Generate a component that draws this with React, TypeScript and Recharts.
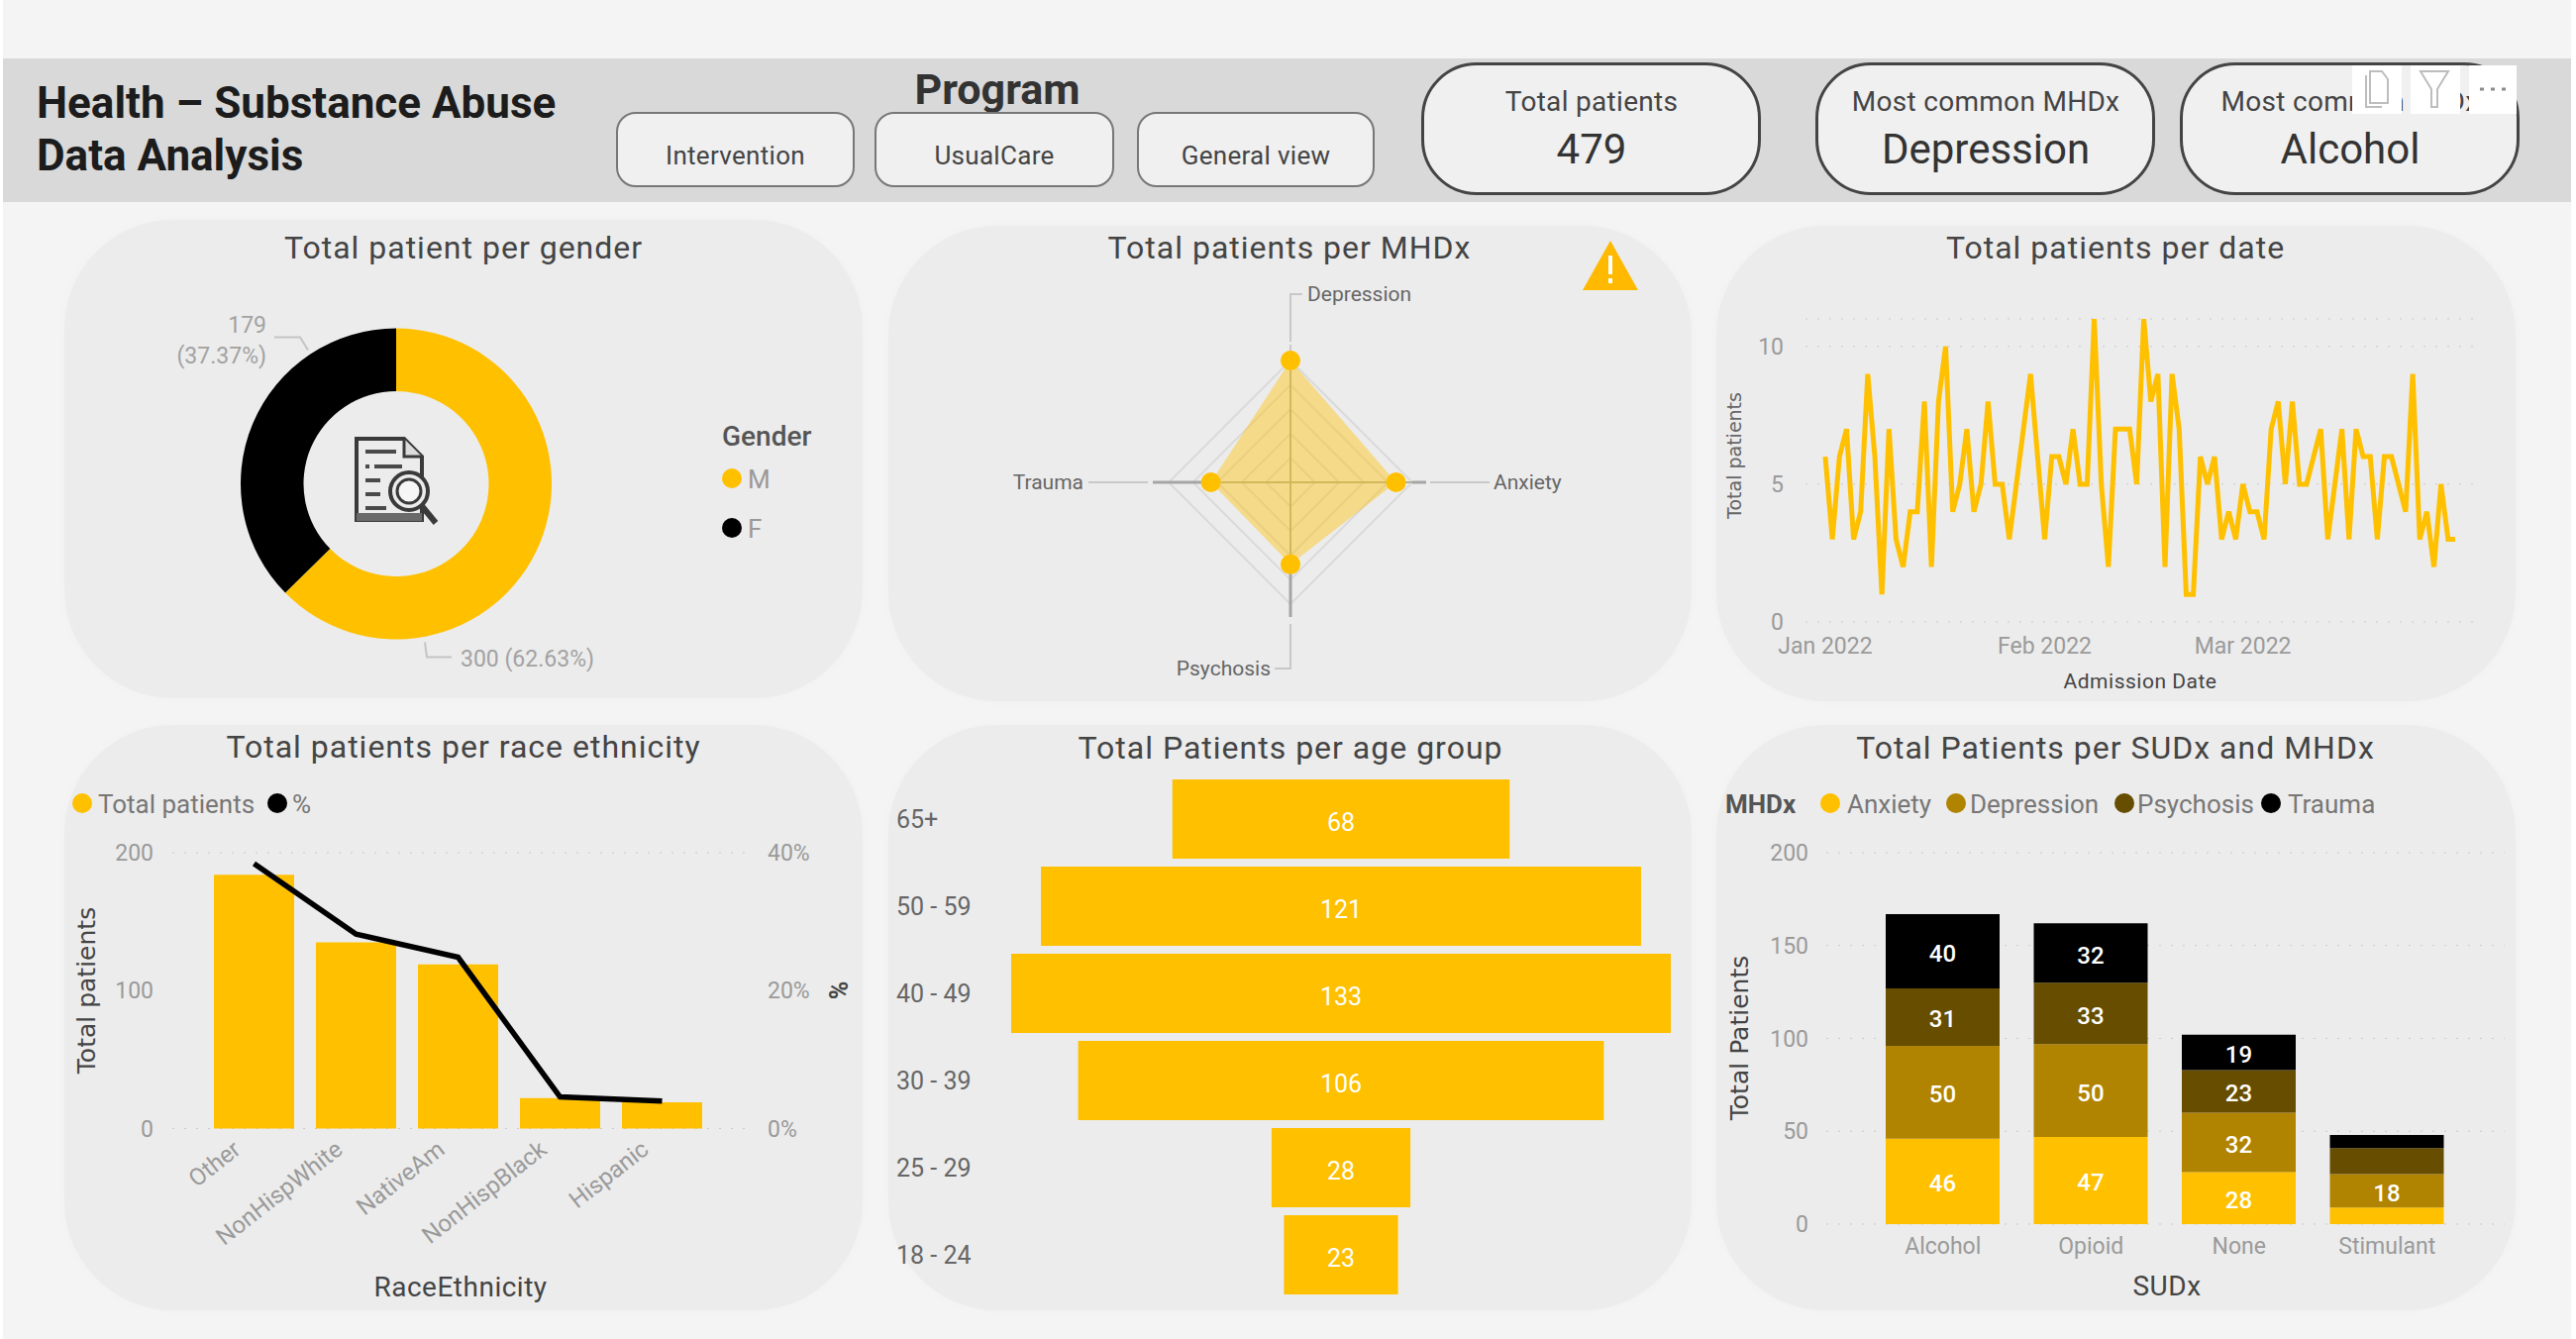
import React from 'react';
import {
  PieChart, Pie, Cell, RadarChart, Radar, PolarGrid, PolarAngleAxis, PolarRadiusAxis,
  LineChart, Line, XAxis, YAxis, CartesianGrid, ComposedChart, Bar, BarChart, LabelList,
} from 'recharts';

const FONT = 'Roboto, sans-serif';
const WIDE = '"DejaVu Sans", sans-serif';
const YELLOW = '#ffc000';

const programs = ['Intervention', 'UsualCare', 'General view'];

const genderNames = ['M', 'F'];
const genderValues = [300, 179];

const mhdxNames = ['Depression', 'Anxiety', 'Psychosis', 'Trauma'];
const mhdxValues = [150, 130, 101, 98];

// one value per admission day, starting 1 Jan 2022
const dailyPatients = [
  6, 3, 6, 7, 3, 4, 9, 6, 1, 7, 3, 2, 4, 4, 8, 2, 8, 10, 4, 5, 7, 4, 5, 8, 5, 5, 3, 5, 7, 9,
  6, 3, 6, 6, 5, 7, 5, 5, 11, 5, 2, 7, 7, 7, 5, 11, 8, 9, 2, 9, 7, 1, 1, 6, 5, 6, 3, 4, 3, 5,
  4, 4, 3, 7, 8, 5, 8, 5, 5, 6, 7, 3, 5, 7, 3, 7, 6, 6, 3, 6, 6, 5, 4, 9, 3, 4, 2, 5, 3, 3,
];
const monthStarts = [0, 31, 59];
const monthLabels = ['Jan 2022', 'Feb 2022', 'Mar 2022'];

const raceNames = ['Other', 'NonHispWhite', 'NativeAm', 'NonHispBlack', 'Hispanic'];
const raceTotals = [184, 135, 119, 22, 19];
const racePercents = [38.41, 28.18, 24.84, 4.59, 3.97];

const ageGroups = ['65+', '50 - 59', '40 - 49', '30 - 39', '25 - 29', '18 - 24'];
const ageTotals = [68, 121, 133, 106, 28, 23];

const sudxNames = ['Alcohol', 'Opioid', 'None', 'Stimulant'];
const sudAnxiety = [46, 47, 28, 9];
const sudDepression = [50, 50, 32, 18];
const sudPsychosis = [31, 33, 23, 14];
const sudTrauma = [40, 32, 19, 7];

const genderData = genderNames.map((name, i) => ({ name, value: genderValues[i] }));
const mhdxData = mhdxNames.map((name, i) => ({ name, value: mhdxValues[i] }));
const dailyData = dailyPatients.map((patients, day) => ({ day, patients }));
const raceData = raceNames.map((name, i) => ({ name, total: raceTotals[i], pct: racePercents[i] }));
const ageData = ageGroups.map((age, i) => ({ age, patients: ageTotals[i] }));
const sudData = sudxNames.map((name, i) => ({
  name,
  Anxiety: sudAnxiety[i],
  Depression: sudDepression[i],
  Psychosis: sudPsychosis[i],
  Trauma: sudTrauma[i],
}));

const sudSeries = [
  { key: 'Anxiety', color: YELLOW },
  { key: 'Depression', color: '#b08300' },
  { key: 'Psychosis', color: '#664d00' },
  { key: 'Trauma', color: '#000000' },
];

const GRID = { stroke: '#c9c9c9', strokeDasharray: '2 10', vertical: false };
const TICK = { fill: '#9a9a9a', fontSize: 23, fontFamily: FONT };

type TxtProps = {
  x: number; y: number; size: number; color?: string; weight?: number; spacing?: number;
  anchor?: 'start' | 'middle' | 'end'; font?: string; rotate?: number; children: React.ReactNode;
};

const Txt: React.FC<TxtProps> = ({ x, y, size, color = '#444', weight = 400, spacing = 0, anchor = 'middle', font = FONT, rotate = 0, children }) => {
  const tx = anchor === 'middle' ? '-50%' : anchor === 'end' ? '-100%' : '0';
  return (
    <div style={{
      position: 'absolute', left: x, top: y, fontSize: size, color, fontWeight: weight, fontFamily: font, letterSpacing: spacing,
      lineHeight: 1, whiteSpace: 'nowrap', transform: `translate(${tx}, -50%) rotate(${rotate}deg)`,
    }}>{children}</div>
  );
};

const Title: React.FC<{ x: number; y: number; children: React.ReactNode }> = ({ x, y, children }) => (
  <Txt x={x} y={y} size={32} spacing={1} color="#444">{children}</Txt>
);

const Dot: React.FC<{ x: number; y: number; color: string }> = ({ x, y, color }) => (
  <div style={{ position: 'absolute', left: x - 10, top: y - 10, width: 20, height: 20, borderRadius: '50%', background: color }} />
);

const Card: React.FC<{ x: number; y: number; w: number; h: number }> = ({ x, y, w, h }) => (
  <div style={{ position: 'absolute', left: x, top: y, width: w, height: h, borderRadius: 110, background: '#ececec', boxShadow: '0 0 6px #f0f0f0' }} />
);

const Frame: React.FC<{ x: number; y: number; children: React.ReactNode }> = ({ x, y, children }) => (
  <div style={{ position: 'absolute', left: x, top: y }}>{children}</div>
);

const Button: React.FC<{ x: number; w: number; label: string }> = ({ x, w, label }) => (
  <div style={{
    position: 'absolute', left: x, top: 113, width: w, height: 76, boxSizing: 'border-box', background: '#f0f0f0',
    border: '2px solid #777', borderRadius: 20,
  }}>
    <Txt x={w / 2 - 2} y={42} size={26} spacing={0.3} color="#444">{label}</Txt>
  </div>
);

const Kpi: React.FC<{ x: number; label: string; value: string }> = ({ x, label, value }) => (
  <div style={{
    position: 'absolute', left: x, top: 63, width: 343, height: 134, boxSizing: 'border-box', background: '#f0f0f0',
    border: '3px solid #444', borderRadius: 56,
  }}>
    <Txt x={169} y={37} size={28} spacing={0.3} color="#444">{label}</Txt>
    <Txt x={169} y={85} size={42} color="#333">{value}</Txt>
  </div>
);

const HeaderButton: React.FC<{ x: number; w: number; children?: React.ReactNode }> = ({ x, w, children }) => (
  <svg style={{ position: 'absolute', left: x, top: 66 }} width={w} height={49}>
    <rect width={w} height={49} fill="#ffffff" />
    {children}
  </svg>
);

const renderGenderLabel = (p: any) => {
  const { cx, cy, value, percent, index } = p;
  const pct = `(${(percent * 100).toFixed(2)}%)`;
  const textProps = { fill: '#a2a2a2', fontSize: 23, fontFamily: FONT };
  if (index === 0) {
    return (
      <g>
        <polyline points={`${cx + 29},${cy + 160} ${cx + 31},${cy + 175} ${cx + 56},${cy + 175}`} fill="none" stroke="#c4c4c4" strokeWidth={2} />
        <text x={cx + 65} y={cy + 184} {...textProps}>{`${value} ${pct}`}</text>
      </g>
    );
  }
  return (
    <g>
      <polyline points={`${cx - 123},${cy - 148} ${cx - 97},${cy - 148} ${cx - 89},${cy - 135}`} fill="none" stroke="#c4c4c4" strokeWidth={2} />
      <text x={cx - 131} y={cy - 153} textAnchor="end" {...textProps}>{value}</text>
      <text x={cx - 131} y={cy - 122} textAnchor="end" {...textProps}>{pct}</text>
    </g>
  );
};

const RADAR_CX = 406;
const RADAR_CY = 259;

const RadarTick = ({ payload }: any) => {
  const i = mhdxNames.indexOf(payload.value);
  const cx = RADAR_CX;
  const cy = RADAR_CY;
  const textProps = { fill: '#666', fontSize: 21, fontFamily: FONT, dominantBaseline: 'central' as const };
  const leader = { fill: 'none', stroke: '#c8c8c8', strokeWidth: 2 };
  const spoke = { stroke: '#a5a5a5', strokeWidth: 3 };
  if (i === 0) {
    return (
      <g>
        <line x1={cx} y1={cy - 123} x2={cx} y2={cy - 139} {...spoke} strokeWidth={1} />
        <polyline points={`${cx},${cy - 142} ${cx},${cy - 190} ${cx + 12},${cy - 190}`} {...leader} />
        <text x={cx + 17} y={cy - 190} {...textProps}>{payload.value}</text>
      </g>
    );
  }
  if (i === 1) {
    return (
      <g>
        <line x1={cx + 123} y1={cy} x2={cx + 137} y2={cy} {...spoke} />
        <line x1={cx + 141} y1={cy} x2={cx + 201} y2={cy} {...leader} />
        <text x={cx + 205} y={cy} {...textProps}>{payload.value}</text>
      </g>
    );
  }
  if (i === 2) {
    return (
      <g>
        <line x1={cx} y1={cy + 83} x2={cx} y2={cy + 136} {...spoke} />
        <polyline points={`${cx},${cy + 143} ${cx},${cy + 188} ${cx - 16},${cy + 188}`} {...leader} />
        <text x={cx - 20} y={cy + 188} textAnchor="end" {...textProps}>{payload.value}</text>
      </g>
    );
  }
  return (
    <g>
      <line x1={cx - 82} y1={cy} x2={cx - 139} y2={cy} {...spoke} />
      <line x1={cx - 144} y1={cy} x2={cx - 204} y2={cy} {...leader} />
      <text x={cx - 209} y={cy} textAnchor="end" {...textProps}>{payload.value}</text>
    </g>
  );
};

const RaceTick = ({ x, y, payload }: any) => (
  <text
    x={x - 12} y={y + 16} textAnchor="end" fill="#9a9a9a" fontSize={24} fontFamily={FONT}
    transform={`rotate(-38 ${x - 12} ${y + 16})`}
  >
    {payload.value}
  </text>
);

const AgeTick = ({ y, payload }: any) => (
  <text x={8} y={y} dominantBaseline="central" fill="#666" fontSize={25} fontFamily={FONT}>{payload.value}</text>
);

const DocIcon = () => (
  <svg style={{ position: 'absolute', left: 356, top: 440 }} width={90} height={92} viewBox="0 0 90 92">
    <path d="M4 3 H52 L70 21 V85 H4 Z" fill="#ececec" stroke="#3a3a3a" strokeWidth={4} />
    <path d="M52 3 V21 H70" fill="#dcdcdc" stroke="#3a3a3a" strokeWidth={3} />
    <path d="M13 16 H44 M13 31 H17 M22 31 H50 M13 45 H28 M13 59 H28 M13 73 H34" stroke="#4a4a4a" strokeWidth={4} fill="none" />
    <rect x={4} y={78} width={66} height={8} fill="#6a6a6a" />
    <circle cx={57} cy={56} r={19} fill="#ececec" stroke="#3a3a3a" strokeWidth={4} />
    <circle cx={57} cy={56} r={12} fill="#f6f6f6" stroke="#3a3a3a" strokeWidth={3} />
    <line x1={70} y1={71} x2={84} y2={88} stroke="#3a3a3a" strokeWidth={6} />
  </svg>
);

const WarningIcon = () => (
  <svg style={{ position: 'absolute', left: 1597, top: 242 }} width={58} height={52} viewBox="0 0 58 52">
    <path d="M29 1 L57 51 H1 Z" fill="#ffb900" />
    <rect x={27} y={16} width={4} height={19} fill="#ffffff" />
    <rect x={27} y={39} width={4} height={5} fill="#ffffff" />
  </svg>
);

const App: React.FC = () => {
  return (
    <div style={{ position: 'relative', width: 2601, height: 1352, background: '#ffffff', overflow: 'hidden', fontFamily: FONT }}>
      <style>{'body{margin:0}'}</style>

      <div style={{ position: 'absolute', left: 3, top: 0, width: 2593, height: 1352, background: '#f4f4f4' }} />

      {/* header band */}
      <div style={{ position: 'absolute', left: 3, top: 59, width: 2593, height: 145, background: '#d9d9d9' }} />
      <Txt x={37} y={104} size={44} weight={700} color="#1c1c1c" anchor="start">Health – Substance Abuse</Txt>
      <Txt x={37} y={157} size={44} weight={700} color="#1c1c1c" anchor="start">Data Analysis</Txt>
      <Txt x={1007} y={90} size={43} weight={700} color="#333">Program</Txt>
      <Button x={622} w={241} label={programs[0]} />
      <Button x={883} w={242} label={programs[1]} />
      <Button x={1148} w={240} label={programs[2]} />
      <Kpi x={1435} label="Total patients" value="479" />
      <Kpi x={1833} label="Most common MHDx" value="Depression" />
      <Kpi x={2201} label="Most common SUDx" value="Alcohol" />
      <HeaderButton x={2375} w={50}>
        <path d="M18 6 H30 L36 14 V38 H18 Z M14 10 V42 H30" fill="none" stroke="#bdbdbd" strokeWidth={2} />
      </HeaderButton>
      <HeaderButton x={2434} w={50}>
        <path d="M10 6 H38 L27 24 V42 H21 V24 Z" fill="none" stroke="#bdbdbd" strokeWidth={2} />
      </HeaderButton>
      <HeaderButton x={2493} w={48}>
        <path d="M11 24 h4 M22 24 h4 M33 24 h4" stroke="#8a8a8a" strokeWidth={3} />
      </HeaderButton>

      <Card x={65} y={222} w={806} h={483} />
      <Card x={897} y={228} w={811} h={480} />
      <Card x={1733} y={228} w={807} h={480} />
      <Card x={65} y={732} w={806} h={591} />
      <Card x={897} y={732} w={811} h={591} />
      <Card x={1733} y={732} w={807} h={591} />

      {/* gender donut */}
      <Title x={468} y={250}>Total patient per gender</Title>
      <Frame x={65} y={222}>
        <PieChart width={806} height={483} margin={{ left: 0, right: 0, top: 0, bottom: 0 }}>
          <Pie
            data={genderData} dataKey="value" nameKey="name" cx={335} cy={266.5}
            innerRadius={93.5} outerRadius={157} startAngle={90} endAngle={-270}
            stroke="none" label={renderGenderLabel} labelLine={false} isAnimationActive={false}
          >
            <Cell fill={YELLOW} />
            <Cell fill="#000000" />
          </Pie>
        </PieChart>
      </Frame>
      <DocIcon />
      <Txt x={729} y={441} size={28} color="#555" weight={500} anchor="start">Gender</Txt>
      <Dot x={739} y={483} color={YELLOW} />
      <Txt x={755} y={484} size={26} color="#999" anchor="start">{genderNames[0]}</Txt>
      <Dot x={739} y={533} color="#000" />
      <Txt x={755} y={534} size={26} color="#999" anchor="start">{genderNames[1]}</Txt>

      {/* MHDx radar */}
      <Title x={1302} y={250}>Total patients per MHDx</Title>
      <Frame x={897} y={228}>
        <RadarChart width={811} height={480} data={mhdxData} cx={RADAR_CX} cy={RADAR_CY} outerRadius={123}>
          <PolarGrid gridType="polygon" stroke="#dadada" strokeWidth={2} radialLines={false} />
          <PolarGrid gridType="polygon" stroke="#b4b09c" strokeWidth={2} polarRadius={[0]} />
          <PolarAngleAxis dataKey="name" tick={RadarTick} tickLine={false} axisLine={false} />
          <PolarRadiusAxis domain={[0, 150]} tickCount={6} tick={false} axisLine={false} />
          <Radar
            dataKey="value" stroke="none" fill={YELLOW} fillOpacity={0.42}
            dot={{ r: 10, fill: YELLOW, stroke: 'none', fillOpacity: 1 }} isAnimationActive={false}
          />
        </RadarChart>
      </Frame>
      <WarningIcon />

      {/* daily admissions */}
      <Title x={2136} y={250}>Total patients per date</Title>
      <Frame x={1733} y={228}>
        <LineChart width={807} height={480} data={dailyData} margin={{ left: 30, right: 42, top: 94, bottom: 40 }}>
          <CartesianGrid {...GRID} />
          <XAxis
            dataKey="day" type="number" domain={[0, 89]} ticks={monthStarts} padding={{ left: 20, right: 19 }}
            tickFormatter={(d: number) => monthLabels[monthStarts.indexOf(d)]}
            tick={TICK} tickLine={false} axisLine={false} height={40} tickMargin={10} interval={0}
          />
          <YAxis
            width={60} domain={[0, 11]} ticks={[0, 5, 10]} allowDataOverflow
            tick={TICK} tickLine={false} axisLine={false} tickMargin={16}
          />
          <Line dataKey="patients" type="linear" stroke={YELLOW} strokeWidth={5} strokeLinejoin="miter" dot={false} isAnimationActive={false} />
        </LineChart>
      </Frame>
      <Txt x={1751} y={460} size={19} color="#666" font={WIDE} rotate={-90}>Total patients</Txt>
      <Txt x={2161} y={688} size={21} color="#444" spacing={0.5}>Admission Date</Txt>

      {/* race ethnicity combo */}
      <Title x={468} y={754}>Total patients per race ethnicity</Title>
      <Dot x={83} y={811} color={YELLOW} />
      <Txt x={99} y={812} size={26} color="#777" anchor="start">Total patients</Txt>
      <Dot x={280} y={811} color="#000" />
      <Txt x={295} y={812} size={26} color="#777" anchor="start">%</Txt>
      <Frame x={65} y={732}>
        <ComposedChart width={806} height={591} data={raceData} margin={{ left: 49, right: 55, top: 129, bottom: 83.5 }}>
          <CartesianGrid {...GRID} />
          <XAxis
            dataKey="name" padding={{ left: 31, right: 36 }} tick={RaceTick} tickLine={false} axisLine={false}
            height={100} interval={0}
          />
          <YAxis
            yAxisId="left" width={60} domain={[0, 200]} ticks={[0, 100, 200]}
            tick={TICK} tickLine={false} axisLine={false} tickMargin={13}
          />
          <YAxis
            yAxisId="right" orientation="right" width={60} domain={[0, 40]} ticks={[0, 20, 40]}
            tickFormatter={(v: number) => `${v}%`} tick={TICK} tickLine={false} axisLine={false} tickMargin={13}
          />
          <Bar yAxisId="left" dataKey="total" fill={YELLOW} barSize={81} isAnimationActive={false} />
          <Line yAxisId="right" dataKey="pct" type="linear" stroke="#000" strokeWidth={5.5} dot={false} isAnimationActive={false} />
        </ComposedChart>
      </Frame>
      <Txt x={87} y={1000} size={25} color="#444" font={WIDE} rotate={-90}>Total patients</Txt>
      <Txt x={847} y={1000} size={25} color="#444" weight={700} rotate={-90}>%</Txt>
      <Txt x={465} y={1300} size={28} spacing={0.5} color="#444">RaceEthnicity</Txt>

      {/* age funnel */}
      <Title x={1303} y={755}>Total Patients per age group</Title>
      <Frame x={897} y={732}>
        <BarChart
          width={811} height={591} data={ageData} layout="vertical"
          margin={{ left: 0, right: 21, top: 51, bottom: 12 }}
        >
          <XAxis type="number" hide domain={[-66.5, 66.5]} />
          <YAxis type="category" dataKey="age" width={124} tick={AgeTick} tickLine={false} axisLine={false} interval={0} />
          <Bar dataKey={(d: any) => [-d.patients / 2, d.patients / 2]} fill={YELLOW} barSize={80} isAnimationActive={false}>
            <LabelList dataKey="patients" position="center" fill="#fff" fontSize={25} fontFamily={FONT} dy={3} />
          </Bar>
        </BarChart>
      </Frame>

      {/* SUDx stacked */}
      <Title x={2136} y={755}>Total Patients per SUDx and MHDx</Title>
      <Txt x={1742} y={812} size={26} color="#555" weight={700} anchor="start">MHDx</Txt>
      <Dot x={1848} y={811} color={sudSeries[0].color} />
      <Txt x={1865} y={812} size={26} color="#777" anchor="start">{sudSeries[0].key}</Txt>
      <Dot x={1975} y={811} color={sudSeries[1].color} />
      <Txt x={1989} y={812} size={26} color="#777" anchor="start">{sudSeries[1].key}</Txt>
      <Dot x={2145} y={811} color={sudSeries[2].color} />
      <Txt x={2158} y={812} size={26} color="#777" anchor="start">{sudSeries[2].key}</Txt>
      <Dot x={2293} y={811} color={sudSeries[3].color} />
      <Txt x={2310} y={812} size={26} color="#777" anchor="start">{sudSeries[3].key}</Txt>
      <Frame x={1733} y={732}>
        <BarChart width={807} height={591} data={sudData} margin={{ left: 51, right: 11, top: 129, bottom: 47 }}>
          <CartesianGrid {...GRID} />
          <XAxis
            dataKey="name" padding={{ left: 43, right: 44 }} tick={TICK} tickLine={false} axisLine={false}
            height={40} tickMargin={8} interval={0}
          />
          <YAxis
            width={60} domain={[0, 200]} ticks={[0, 50, 100, 150, 200]}
            tick={TICK} tickLine={false} axisLine={false} tickMargin={12}
          />
          {sudSeries.map((s) => (
            <Bar key={s.key} dataKey={s.key} stackId="sud" fill={s.color} barSize={115} isAnimationActive={false}>
              <LabelList
                dataKey={s.key} position="center" fill="#fff" fontSize={24} fontWeight={500} fontFamily={FONT} dy={2}
                formatter={(v: number) => (v >= 18 ? v : '')}
              />
            </Bar>
          ))}
        </BarChart>
      </Frame>
      <Txt x={1756} y={1048} size={25} color="#444" font={WIDE} rotate={-90}>Total Patients</Txt>
      <Txt x={2188} y={1299} size={28} spacing={0.5} color="#444">SUDx</Txt>
    </div>
  );
};

export default App;
